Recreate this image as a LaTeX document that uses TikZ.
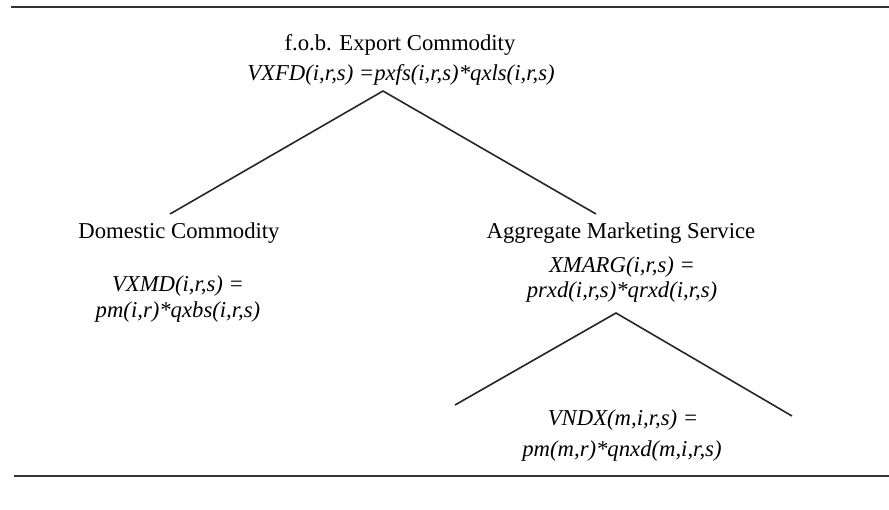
\documentclass[tikz,border=0pt]{standalone}
\usepackage{fontspec}
\setmainfont{Liberation Serif}
\begin{document}
\begin{tikzpicture}[x=0.5pt,y=-0.5pt,
  txt/.style={anchor=base,inner sep=0pt,font=\fontsize{11.35}{13}\selectfont},
  frm/.style={txt,font=\fontsize{11.35}{13}\selectfont\itshape},
  rule/.style={line width=1pt,draw=black!80},
  branch/.style={line width=0.8pt,draw=black!85}]
\useasboundingbox (0,0) rectangle (889,509);
% rules
\coordinate (rtl) at (11,7);
\coordinate (rtr) at (889,7);
\coordinate (rbl) at (14,476);
\coordinate (rbr) at (889,476);
\draw[rule] (rtl) -- (rtr);
\draw[rule] (rbl) -- (rbr);
% texts
\node[txt] (top1) at (400,50) {f.o.b. Export Commodity};
\node[frm] (top2) at (401,80) {VXFD(i,r,s) =pxfs(i,r,s)*qxls(i,r,s)};
\node[txt] (dom1) at (179,238) {Domestic Commodity};
\node[frm] (dom2) at (178,291) {VXMD(i,r,s) =};
\node[frm] (dom3) at (178,317) {pm(i,r)*qxbs(i,r,s)};
\node[txt] (agg1) at (621,238) {Aggregate Marketing Service};
\node[frm] (agg2) at (622,272) {XMARG(i,r,s) =};
\node[frm] (agg3) at (622,297) {prxd(i,r,s)*qrxd(i,r,s)};
\node[frm] (vn1) at (623,425) {VNDX(m,i,r,s) =};
\node[frm] (vn2) at (622,456) {pm(m,r)*qnxd(m,i,r,s)};
% branches
\coordinate (a1) at (383,91);
\coordinate (l1) at (170,214);
\coordinate (r1) at (596,214);
\coordinate (a2) at (616,313);
\coordinate (l2) at (455,405);
\coordinate (r2) at (792,416);
\draw[branch] (l1) -- (a1) -- (r1);
\draw[branch] (l2) -- (a2) -- (r2);
\end{tikzpicture}
\end{document}
